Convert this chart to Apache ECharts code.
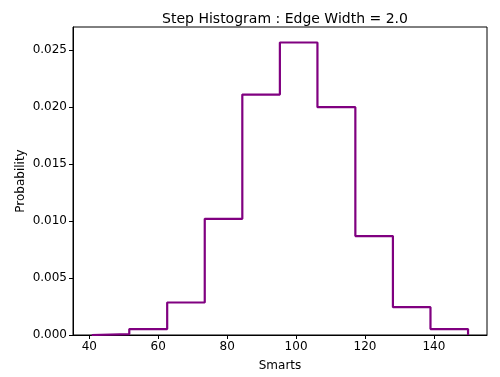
<!DOCTYPE html>
<html>
<head>
<meta charset="utf-8">
<script src="https://cdn.jsdelivr.net/npm/echarts@6/dist/echarts.min.js"></script>
<style>
  html, body { margin: 0; padding: 0; background: #fff; }
  #chart { width: 500px; height: 377px; }
</style>
</head>
<body>
<div id="chart"></div>
<script>
/* bin edges (Smarts) and bin heights (probability) */
var binEdges = [40.7, 51.6, 62.6, 73.5, 84.4, 95.3, 106.2, 117.2, 128.1, 139.0, 149.9];
var binHeights = [0.00007, 0.00052, 0.00285, 0.01018, 0.02108, 0.02564, 0.01997, 0.00867, 0.00244, 0.00052];
var xTicks = [40, 60, 80, 100, 120, 140];
var yTicks = [0, 0.005, 0.010, 0.015, 0.020, 0.025];

/* outline of a step histogram: up from 0, across each bin, back down to 0 */
var stepPoints = [[binEdges[0], 0]];
for (var i = 0; i < binHeights.length; i++) {
    stepPoints.push([binEdges[i], binHeights[i]]);
    stepPoints.push([binEdges[i + 1], binHeights[i]]);
}
stepPoints.push([binEdges[binEdges.length - 1], 0]);

var myChart = echarts.init(document.getElementById('chart'));
var font = 'DejaVu Sans';
var option = {
    animation: false,
    title: {
        text: 'Step Histogram : Edge Width = 2.0',
        left: 280,
        top: 7,
        textAlign: 'center',
        textStyle: { fontFamily: font, fontSize: 14, fontWeight: 'normal', color: '#000' }
    },
    grid: {
        left: 73, right: 13, top: 27, bottom: 41,
        show: true, borderColor: '#000', borderWidth: 1
    },
    xAxis: {
        type: 'value',
        min: 35.27,
        max: 155.4,
        name: 'Smarts',
        nameLocation: 'middle',
        nameGap: 25,
        nameMoveOverlap: false,
        nameTextStyle: { fontFamily: font, fontSize: 12, color: '#000' },
        axisLine: { show: true, lineStyle: { color: '#000', width: 1 } },
        axisTick: { show: true, length: 4, customValues: xTicks, lineStyle: { color: '#000' } },
        axisLabel: { customValues: xTicks, fontFamily: font, fontSize: 12, color: '#000', margin: 6 },
        splitLine: { show: false }
    },
    yAxis: {
        type: 'value',
        min: 0,
        max: 0.027,
        name: 'Probability',
        nameLocation: 'middle',
        nameGap: 46,
        nameMoveOverlap: false,
        nameTextStyle: { fontFamily: font, fontSize: 12, color: '#000' },
        axisLine: { show: true, lineStyle: { color: '#000', width: 1 } },
        axisTick: { show: true, length: 4, customValues: yTicks, lineStyle: { color: '#000' } },
        axisLabel: {
            customValues: yTicks,
            fontFamily: font, fontSize: 12, color: '#000', margin: 6,
            formatter: function (v) { return v.toFixed(3); }
        },
        splitLine: { show: false }
    },
    series: [{
        type: 'line',
        data: stepPoints,
        symbol: 'none',
        lineStyle: { color: '#800080', width: 2.2 },
        itemStyle: { color: '#800080' }
    }]
};
myChart.setOption(option);
</script>
</body>
</html>
